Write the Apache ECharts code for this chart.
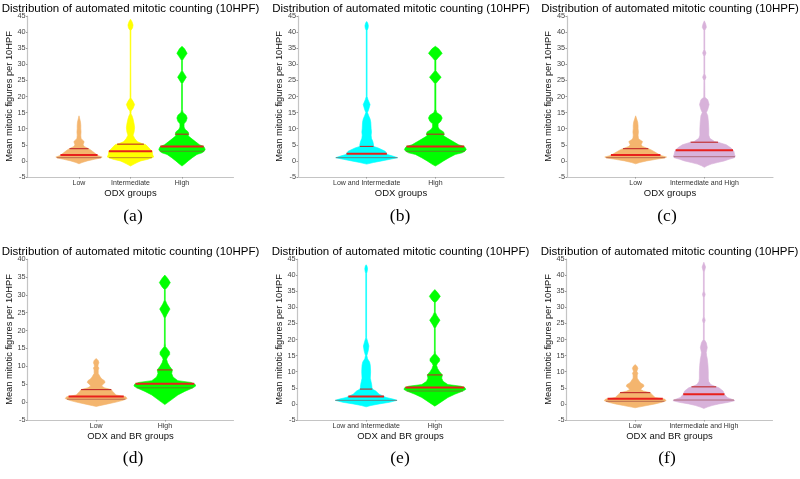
<!DOCTYPE html>
<html><head><meta charset="utf-8">
<script src="https://cdn.jsdelivr.net/npm/echarts@6/dist/echarts.min.js"></script>
<style>html,body{margin:0;padding:0;background:#fff}#c{width:800px;height:479px}</style>
</head><body><div id="c"></div>
<script>
// ---------------- DATA ----------------
const titleText = 'Distribution of automated mitotic counting (10HPF)';
const yName = 'Mean mitotic figures per 10HPF';
const panelLabels = ['(a)', '(b)', '(c)', '(d)', '(e)', '(f)'];
const xNames = ['ODX groups', 'ODX groups', 'ODX groups', 'ODX and BR groups', 'ODX and BR groups', 'ODX and BR groups'];
const catsA = ['Low', 'Intermediate', 'High'];
const catsB = ['Low and Intermediate', 'High'];
const catsC = ['Low', 'Intermediate and High'];
const yMaxes = [45, 45, 45, 40, 45, 45];

// violin profiles: y levels and half-widths (x-axis units)
const odxLowY = [-0.9, -0.5, 0, 0.5, 0.9, 1.2, 1.6, 2.0, 2.5, 3.0, 3.5, 4.0, 4.5, 5.0, 5.5, 6.0, 6.6, 7.0, 8.0, 9.0, 10.0, 11.0, 12.0, 13.0, 14.0];
const odxLowW = [0, 0.06, 0.16, 0.3, 0.42, 0.45, 0.38, 0.34, 0.3, 0.26, 0.22, 0.16, 0.1, 0.08, 0.09, 0.1, 0.06, 0.04, 0.035, 0.04, 0.035, 0.035, 0.03, 0.015, 0];
const odxIntY = [-1.6, -1.0, -0.5, 0, 0.5, 1.2, 2.0, 3.0, 4.0, 5.0, 5.4, 6.0, 7.0, 8.0, 9.0, 10.3, 11.5, 13.0, 14.0, 14.6, 15.5, 16.3, 17.5, 18.5, 19.5, 30, 40.5, 41.3, 42.2, 43.2, 44.0];
const odxIntW = [0, 0.07, 0.13, 0.2, 0.34, 0.45, 0.43, 0.42, 0.36, 0.3, 0.22, 0.13, 0.08, 0.05, 0.07, 0.08, 0.07, 0.05, 0.03, 0.01, 0.012, 0.05, 0.08, 0.05, 0.008, 0.006, 0.008, 0.04, 0.05, 0.03, 0];
const odxHighY = [-1.6, -1, 0, 1, 2, 2.5, 3, 3.5, 4, 4.5, 5, 6, 7, 7.8, 8.3, 9, 9.8, 10.5, 11.5, 12.3, 13.3, 14.2, 15.0, 16, 24, 24.6, 26, 27.4, 28, 31.2, 32, 33.4, 34.8, 35.6];
const odxHighW = [0, 0.05, 0.12, 0.2, 0.29, 0.39, 0.43, 0.45, 0.44, 0.42, 0.34, 0.26, 0.18, 0.12, 0.13, 0.12, 0.06, 0.04, 0.04, 0.08, 0.1, 0.08, 0.02, 0.008, 0.008, 0.03, 0.085, 0.03, 0.008, 0.008, 0.04, 0.1, 0.05, 0];
const odxLowIntY = [-1, -0.5, 0, 0.5, 1, 1.5, 2, 3, 4, 4.5, 5, 6, 7, 8, 9, 10, 12, 13, 14, 15, 16, 17.5, 19, 20, 40.5, 41.2, 42, 42.8, 43.3];
const odxLowIntW = [0, 0.1, 0.22, 0.34, 0.45, 0.38, 0.3, 0.27, 0.17, 0.1, 0.1, 0.09, 0.07, 0.065, 0.07, 0.065, 0.06, 0.05, 0.03, 0.012, 0.03, 0.05, 0.02, 0.006, 0.006, 0.02, 0.025, 0.015, 0];
const odxIntHighY = [-2, -1.5, -1, -0.5, 0, 0.5, 1, 1.5, 2, 3, 4, 5, 5.8, 6, 7, 8, 10, 12, 14, 15, 16, 17.5, 19, 19.8, 25, 26, 27, 32.5, 33.5, 34.5, 40.5, 41.5, 42.5, 43.5];
const odxIntHighW = [0, 0.04, 0.1, 0.19, 0.29, 0.36, 0.44, 0.45, 0.44, 0.43, 0.39, 0.32, 0.2, 0.15, 0.08, 0.065, 0.065, 0.06, 0.05, 0.03, 0.05, 0.07, 0.05, 0.008, 0.006, 0.025, 0.006, 0.006, 0.025, 0.006, 0.006, 0.03, 0.02, 0];
const brLowY = [-1.2, -1, -0.5, 0, 0.5, 1, 1.5, 2, 3, 3.5, 4, 4.5, 5, 5.5, 6, 6.5, 7, 8, 9, 9.5, 10, 10.5, 11, 11.6, 12.2];
const brLowW = [0, 0.05, 0.17, 0.29, 0.39, 0.45, 0.43, 0.29, 0.24, 0.22, 0.12, 0.08, 0.1, 0.13, 0.12, 0.08, 0.06, 0.03, 0.03, 0.04, 0.025, 0.03, 0.04, 0.03, 0];
const brHighY = [-0.7, 0, 1, 2, 3, 4, 4.5, 5, 5.5, 6, 7, 8, 9, 10, 11, 12, 12.6, 13.3, 14, 14.8, 15.5, 16.5, 23.5, 24.5, 26, 27.4, 28.5, 31.5, 32.2, 33.4, 34.6, 35.5];
const brHighW = [0, 0.05, 0.12, 0.19, 0.29, 0.41, 0.45, 0.44, 0.38, 0.19, 0.12, 0.1, 0.11, 0.07, 0.04, 0.025, 0.04, 0.07, 0.07, 0.04, 0.01, 0.006, 0.006, 0.03, 0.075, 0.03, 0.006, 0.006, 0.04, 0.08, 0.04, 0];
const brLowIntY = [-0.9, -0.5, 0, 0.5, 1.1, 1.5, 2, 3, 4, 4.6, 5, 6, 7, 8, 10, 12, 13, 14, 15, 16.5, 18, 19.5, 20.5, 40.5, 41.2, 42, 42.8, 43.2];
const brLowIntW = [0, 0.07, 0.19, 0.34, 0.45, 0.39, 0.29, 0.19, 0.14, 0.09, 0.085, 0.08, 0.07, 0.06, 0.065, 0.06, 0.05, 0.02, 0.01, 0.03, 0.04, 0.02, 0.006, 0.006, 0.015, 0.02, 0.012, 0];
const brIntHighY = [-1.4, -1, -0.5, 0, 0.5, 1, 1.2, 2, 3, 4, 5, 5.3, 6, 7, 8, 10, 12, 14, 15, 16, 17.5, 19, 20, 25, 26, 27, 33, 34, 35, 41, 42.5, 44];
const brIntHighW = [0, 0.05, 0.12, 0.22, 0.36, 0.45, 0.44, 0.34, 0.3, 0.28, 0.22, 0.18, 0.1, 0.07, 0.065, 0.065, 0.06, 0.05, 0.04, 0.035, 0.05, 0.035, 0.006, 0.006, 0.02, 0.006, 0.006, 0.02, 0.006, 0.006, 0.025, 0];

// summary lines: [lower, middle(red), upper]
const odxLowStats = [1.0, 1.8, 3.8];
const odxIntStats = [1.0, 3.0, 5.2];
const odxHighStats = [3.0, 4.5, 8.3];
const odxLowIntStats = [1.0, 2.2, 4.5];
const odxIntHighStats = [1.3, 3.3, 5.8];
const brLowStats = [0.8, 1.6, 3.5];
const brHighStats = [4.0, 5.1, 9.0];
const brLowIntStats = [1.1, 2.3, 4.6];
const brIntHighStats = [1.2, 3.0, 5.3];

// ---------------- STYLE / LAYOUT ----------------
const C_ORANGE = '#F4B56E', C_YELLOW = '#FFFF00', C_GREEN = '#00FF00', C_CYAN = '#00FFFF', C_PURPLE = '#D8B2DA';
const FONT = '"Liberation Sans", Arial, sans-serif';
const gridLefts = [27.5, 298, 567, 27.5, 297.5, 566.5];
const gridTops = [16, 16, 16, 259, 259, 259];
const GW = 206, GH = 161;

const panels = [
  { cats: catsA, v: [[odxLowY, odxLowW, odxLowStats, C_ORANGE], [odxIntY, odxIntW, odxIntStats, C_YELLOW], [odxHighY, odxHighW, odxHighStats, C_GREEN]] },
  { cats: catsB, v: [[odxLowIntY, odxLowIntW, odxLowIntStats, C_CYAN], [odxHighY, odxHighW, odxHighStats, C_GREEN]] },
  { cats: catsC, v: [[odxLowY, odxLowW, odxLowStats, C_ORANGE], [odxIntHighY, odxIntHighW, odxIntHighStats, C_PURPLE]] },
  { cats: ['Low', 'High'], v: [[brLowY, brLowW, brLowStats, C_ORANGE], [brHighY, brHighW, brHighStats, C_GREEN]] },
  { cats: catsB, v: [[brLowIntY, brLowIntW, brLowIntStats, C_CYAN], [brHighY, brHighW, brHighStats, C_GREEN]] },
  { cats: catsC, v: [[brLowY, brLowW, brLowStats, C_ORANGE], [brIntHighY, brIntHighW, brIntHighStats, C_PURPLE]] }
];

function interpW(ys, ws, y) {
  for (let i = 0; i < ys.length - 1; i++) {
    if (y >= ys[i] && y <= ys[i + 1]) {
      const t = (y - ys[i]) / (ys[i + 1] - ys[i]);
      return ws[i] + t * (ws[i + 1] - ws[i]);
    }
  }
  return 0;
}

const lineStyles = [
  { stroke: 'rgba(150,60,60,0.6)', lineWidth: 1 },
  { stroke: '#E8201C', lineWidth: 2 },
  { stroke: '#C02828', lineWidth: 1.1 }
];

function violinSeries(gi, pos, ys, ws, stats, color) {
  return {
    type: 'custom', xAxisIndex: gi, yAxisIndex: gi, silent: true, animation: false,
    data: [[pos]],
    renderItem: function (params, api) {
      const c = api.value(0);
      const pts = [];
      for (let i = 0; i < ys.length; i++) pts.push(api.coord([c + ws[i], ys[i]]));
      for (let i = ys.length - 1; i >= 0; i--) pts.push(api.coord([c - ws[i], ys[i]]));
      const children = [{ type: 'polygon', shape: { points: pts }, style: { fill: color, stroke: color, lineWidth: 0.6 } }];
      stats.forEach(function (y, k) {
        const w = interpW(ys, ws, y);
        const p1 = api.coord([c - w, y]);
        const p2 = api.coord([c + w, y]);
        children.push({ type: 'line', shape: { x1: p1[0], y1: p1[1], x2: p2[0], y2: p2[1] }, style: lineStyles[k] });
      });
      return { type: 'group', children: children };
    }
  };
}

const grids = [], xAxes = [], yAxes = [], series = [], graphics = [];
panels.forEach(function (p, gi) {
  const n = p.cats.length;
  const positions = p.cats.map(function (_, i) { return i + 1; });
  grids.push({ left: gridLefts[gi], top: gridTops[gi], width: GW, height: GH });
  xAxes.push({
    gridIndex: gi, type: 'value', min: 0, max: n + 1, interval: 1,
    name: xNames[gi], nameLocation: 'middle', nameGap: 10.5,
    nameTextStyle: { fontSize: 9.5, color: '#111', fontFamily: FONT },
    axisLine: { show: true, onZero: false, lineStyle: { color: '#c4c4c4', width: 1.2 } },
    axisTick: { show: true, customValues: positions, length: 1.5, lineStyle: { color: '#999' } },
    axisLabel: { customValues: positions, formatter: function (v) { return p.cats[Math.round(v) - 1] || ''; }, fontSize: 7, color: '#333', margin: 3, fontFamily: FONT },
    splitLine: { show: false }
  });
  yAxes.push({
    gridIndex: gi, type: 'value', min: -5, max: yMaxes[gi], interval: 5,
    name: yName, nameLocation: 'middle', nameGap: 8,
    nameTextStyle: { fontSize: 9.3, color: '#111', fontFamily: FONT },
    axisLine: { show: true, onZero: false, lineStyle: { color: '#c4c4c4', width: 1.2 } },
    axisTick: { show: true, length: 1.5, lineStyle: { color: '#999' } },
    axisLabel: { fontSize: 7.3, color: '#444', margin: 2, fontFamily: FONT },
    splitLine: { show: false }
  });
  p.v.forEach(function (v, i) {
    series.push(violinSeries(gi, i + 1, v[0], v[1], v[2], v[3]));
  });
  const cx = gridLefts[gi] + GW / 2;
  graphics.push({ type: 'text', x: cx, y: gridTops[gi] - 7.5, style: { text: titleText, fontSize: 11.5, fontFamily: FONT, fill: '#000', align: 'center', verticalAlign: 'middle' } });
});
const labelX = [133, 400, 667, 133, 400, 667];
const labelY = [216, 216, 216, 458, 458, 458];
panelLabels.forEach(function (t, i) {
  graphics.push({ type: 'text', x: labelX[i], y: labelY[i], style: { text: t, fontSize: 17.5, fontFamily: '"Liberation Serif", "DejaVu Serif", serif', fill: '#000', align: 'center', verticalAlign: 'middle' } });
});

const chart = echarts.init(document.getElementById('c'), null, { renderer: 'canvas' });
chart.setOption({
  animation: false,
  backgroundColor: '#fff',
  grid: grids, xAxis: xAxes, yAxis: yAxes, series: series, graphic: graphics
});
</script></body></html>
